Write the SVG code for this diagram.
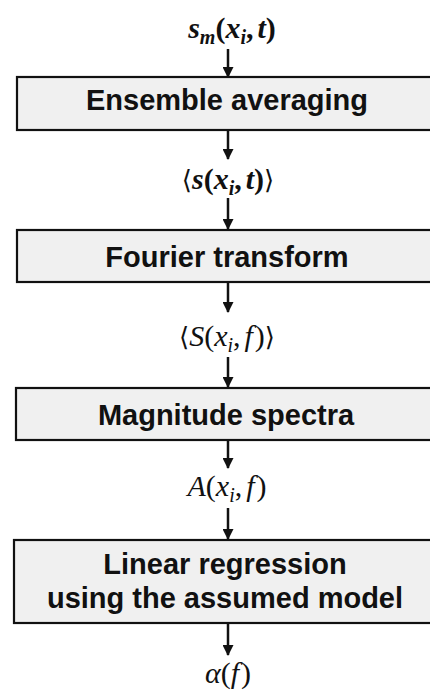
<svg xmlns="http://www.w3.org/2000/svg" width="430" height="695" viewBox="0 0 430 695">
<style>
.box{fill:#f0f0f0;stroke:#111;stroke-width:2.2}
.lbl{font-family:"Liberation Sans",Arial,sans-serif;font-weight:bold;font-size:29px;fill:#111;text-anchor:middle}
.m{font-family:"Liberation Serif","DejaVu Serif",serif;font-style:italic;font-size:30px;fill:#111;text-anchor:middle}
.b{font-weight:bold}
.sub{font-size:20px}
.br{font-family:"DejaVu Serif",serif;font-style:normal;font-weight:normal;font-size:26px}
.up{font-style:normal}
.ar{stroke:#111;stroke-width:2.5;fill:none;marker-end:url(#ah)}
</style>
<defs>
<marker id="ah" markerWidth="11" markerHeight="11" refX="10" refY="5.5" orient="auto" markerUnits="userSpaceOnUse" viewBox="0 0 11 11">
<path d="M0,0 L11,5.5 L0,11 Z" fill="#111"/>
</marker>
</defs>
<g id="connectors">
<line class="ar" x1="228" y1="49" x2="228" y2="77"/>
<line class="ar" x1="228" y1="131" x2="228" y2="159"/>
<line class="ar" x1="228" y1="198" x2="228" y2="229"/>
<line class="ar" x1="228" y1="283" x2="228" y2="312"/>
<line class="ar" x1="228" y1="357" x2="228" y2="387"/>
<line class="ar" x1="228" y1="441" x2="228" y2="468"/>
<line class="ar" x1="228" y1="508" x2="228" y2="539"/>
<line class="ar" x1="228" y1="624" x2="228" y2="655"/>
</g>
<g id="in">
<text class="m b" x="232" y="38">s<tspan class="sub" dy="6">m</tspan><tspan class="up" dy="-6">(</tspan>x<tspan class="sub" dy="6">i</tspan><tspan class="up" dy="-6">,</tspan><tspan dx="4">t</tspan><tspan class="up">)</tspan></text>
</g>
<g id="ensemble">
<rect class="box" x="17" y="77" width="420" height="53"/>
<text class="lbl" x="227" y="110">Ensemble averaging</text>
</g>
<g id="avg">
<text class="m b" x="228" y="189"><tspan class="br">⟨</tspan>s<tspan class="up">(</tspan>x<tspan class="sub" dy="6">i</tspan><tspan class="up" dy="-6">,</tspan><tspan dx="4">t</tspan><tspan class="up">)</tspan><tspan class="br">⟩</tspan></text>
</g>
<g id="fourier">
<rect class="box" x="17" y="230" width="420" height="52"/>
<text class="lbl" x="227" y="267">Fourier transform</text>
</g>
<g id="spec">
<text class="m" x="227" y="346"><tspan class="br">⟨</tspan>S<tspan class="up">(</tspan>x<tspan class="sub" dy="6">i</tspan><tspan class="up" dy="-6">,</tspan><tspan dx="4">f</tspan><tspan class="up" dx="2">)</tspan><tspan class="br">⟩</tspan></text>
</g>
<g id="magnitude">
<rect class="box" x="16" y="388" width="420" height="52"/>
<text class="lbl" x="226" y="425">Magnitude spectra</text>
</g>
<g id="amp">
<text class="m" x="227" y="496">A<tspan class="up">(</tspan>x<tspan class="sub" dy="6">i</tspan><tspan class="up" dy="-6">,</tspan><tspan dx="4">f</tspan><tspan class="up" dx="2">)</tspan></text>
</g>
<g id="regression">
<rect class="box" x="14" y="540" width="422" height="83"/>
<text class="lbl" x="225" y="574">Linear regression</text>
<text class="lbl" x="225" y="608">using the assumed model</text>
</g>
<g id="alpha">
<text class="m" x="228" y="683">α<tspan class="up">(</tspan>f<tspan class="up" dx="2">)</tspan></text>
</g>
</svg>
